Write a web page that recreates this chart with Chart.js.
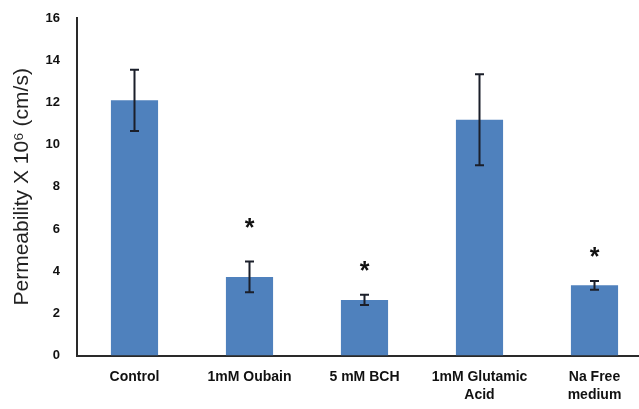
<!DOCTYPE html>
<html>
<head>
<meta charset="utf-8">
<script src="https://cdn.jsdelivr.net/npm/chart.js@4/dist/chart.umd.min.js"></script>
<style>
html,body{margin:0;padding:0;background:#fff;overflow:hidden;width:639px;height:409px;}
#wrap{width:652px;height:409px;}
</style>
</head>
<body>
<div id="wrap"><canvas id="c" width="652" height="409"></canvas></div>
<script>
const categories = ["Control", "1mM Oubain", "5 mM BCH", ["1mM Glutamic", "Acid"], ["Na Free", "medium"]];
const permeability = [12.1, 3.73, 2.64, 11.18, 3.33];
const errorSE = [1.45, 0.73, 0.24, 2.16, 0.21];
const starLevel = [null, 6.3, 4.25, null, 4.9];
const yTicks = [0, 2, 4, 6, 8, 10, 12, 14, 16];

const errorBarPlugin = {
  id: 'errorBars',
  afterDatasetsDraw(chart) {
    const ctx = chart.ctx;
    const meta = chart.getDatasetMeta(0);
    const y = chart.scales.y;
    ctx.save();
    ctx.strokeStyle = '#1b1f2a';
    ctx.lineWidth = 2;
    meta.data.forEach((bar, i) => {
      const v = permeability[i], e = errorSE[i];
      const yt = y.getPixelForValue(v + e), yb = y.getPixelForValue(v - e);
      const x = bar.x;
      ctx.beginPath();
      ctx.moveTo(x, yt); ctx.lineTo(x, yb);
      ctx.moveTo(x - 4.5, yt); ctx.lineTo(x + 4.5, yt);
      ctx.moveTo(x - 4.5, yb); ctx.lineTo(x + 4.5, yb);
      ctx.stroke();
      if (starLevel[i] !== null) {
        const ys = y.getPixelForValue(starLevel[i]);
        ctx.fillStyle = '#111';
        ctx.font = 'bold 25px "Liberation Sans", Arial, sans-serif';
        ctx.textAlign = 'center';
        ctx.textBaseline = 'alphabetic';
        ctx.fillText('*', x, ys + 13);
      }
    });
    ctx.restore();
  }
};

new Chart(document.getElementById('c'), {
  type: 'bar',
  data: {
    labels: categories,
    datasets: [{
      data: permeability,
      backgroundColor: '#4F81BD',
      borderWidth: 0,
      barPercentage: 0.41,
      categoryPercentage: 1.0
    }]
  },
  options: {
    responsive: false,
    animation: false,
    layout: { padding: { top: 18, left: 0, right: 0, bottom: -7 } },
    plugins: { legend: { display: false }, tooltip: { enabled: false } },
    scales: {
      x: {
        grid: { display: false, drawTicks: false },
        border: { display: true, color: '#2a2a2a', width: 2 },
        ticks: {
          color: '#111',
          font: { family: '"Liberation Sans", Arial, sans-serif', size: 14, weight: 'bold', lineHeight: 1.3 },
          padding: 12,
          maxRotation: 0,
          autoSkip: false
        }
      },
      y: {
        min: 0, max: 16,
        afterBuildTicks(scale) { scale.ticks = yTicks.map(v => ({ value: v })); },
        afterFit(scale) { scale.width = 77; scale.paddingTop = 0; scale.paddingBottom = 0; },
        grid: { display: false, drawTicks: false },
        border: { display: true, color: '#2a2a2a', width: 2 },
        ticks: {
          color: '#111',
          font: { family: '"Liberation Sans", Arial, sans-serif', size: 13, weight: 'bold' },
          padding: 17
        },
        title: {
          display: true,
          text: 'Permeability X 10\u2076 (cm/s)',
          color: '#222',
          font: { family: '"Liberation Sans", Arial, sans-serif', size: 21 },
          padding: { top: 10, bottom: 0 }
        }
      }
    }
  },
  plugins: [errorBarPlugin]
});
</script>
</body>
</html>
